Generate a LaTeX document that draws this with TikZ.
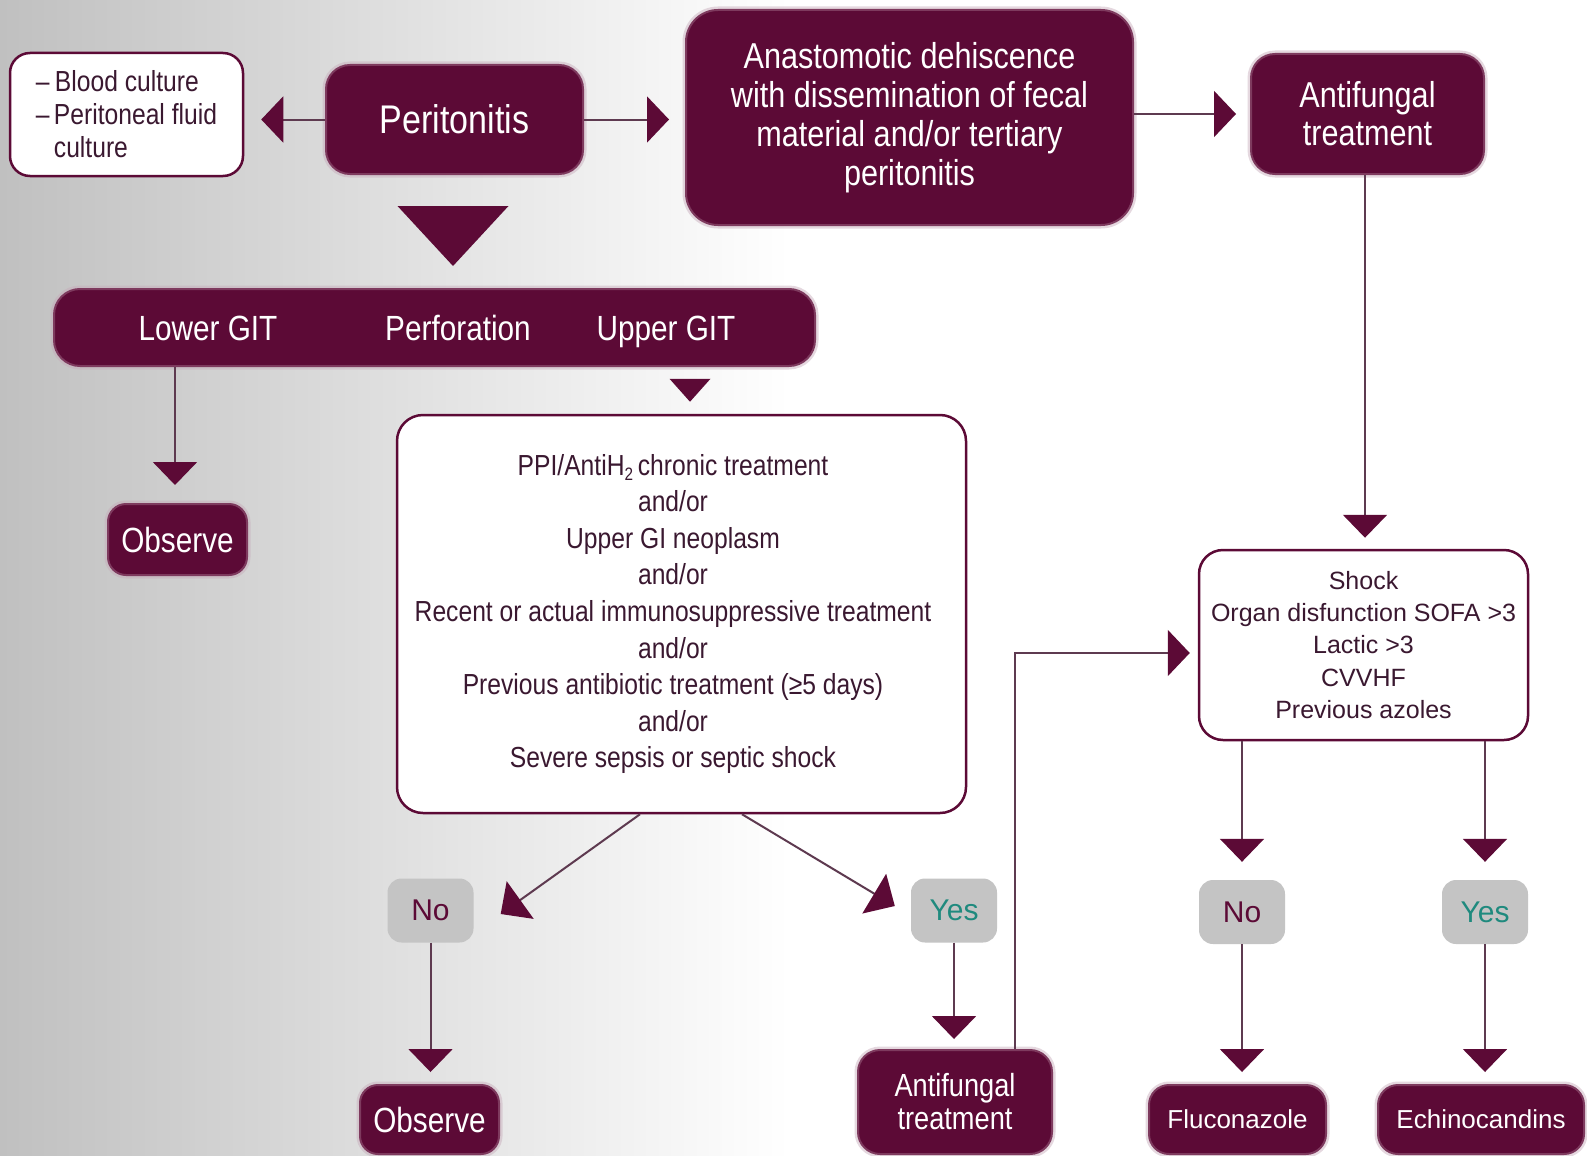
\documentclass[tikz,border=0pt]{standalone}
\usepackage{fontspec}
\setmainfont{Liberation Sans}
\newfontfamily\cond{Liberation Sans}[FakeStretch=0.85]
\usetikzlibrary{arrows.meta,calc}
\definecolor{mar}{HTML}{5C0A36}
\definecolor{marlt}{HTML}{7E3A5E}
\definecolor{txtd}{HTML}{3A1830}
\definecolor{lineC}{HTML}{5E3A50}
\definecolor{grayb}{HTML}{C4C4C4}
\definecolor{yesC}{HTML}{1F8A7E}
\definecolor{bgL}{HTML}{C0C0C0}
\begin{document}
\begin{tikzpicture}[x=1pt,y=-1pt,
  mbox/.style={fill=mar, draw=marlt, line width=2pt, rounded corners=20pt, text=white, align=center, inner sep=0pt,
    preaction={draw=mar!35, line width=7pt, opacity=0.45}},
  wbox/.style={fill=white, draw=mar, line width=2.5pt, rounded corners=20pt, text=txtd, align=center, inner sep=0pt},
  gbox/.style={fill=grayb, draw=none, rounded corners=14pt, inner sep=0pt, minimum width=86pt, minimum height=64pt,
    font=\fontsize{30}{30}\selectfont},
  bartext/.style={text=white, inner sep=0pt, anchor=base, font=\cond\fontsize{35}{38}\selectfont},
  conn/.style={draw=lineC, line width=2pt, -{Triangle[width=44pt,length=23pt,color=mar]}},
]
\useasboundingbox (0,0) rectangle (1587,1156);
\fill[white] (0,0) rectangle (1587,1156);
\shade[left color=bgL, right color=white] (0,0) rectangle (790,1156);

% top row
\node[wbox, minimum width=233pt, minimum height=123pt, align=left, font=\cond\fontsize{29}{33}\selectfont] (blood) at (126.5,114.5)
  {\makebox[19pt][l]{–}Blood culture\\ \makebox[18pt][l]{–}Peritoneal fluid\\ \hspace*{18pt}culture};
\node[mbox, minimum width=257pt, minimum height=109pt, rounded corners=24pt, font=\cond\fontsize{40}{44}\selectfont] (perit) at (454.5,119.5)
  {Peritonitis};
\node[mbox, minimum width=447pt, minimum height=215pt, rounded corners=32pt, font=\cond\fontsize{36}{38.8}\selectfont] (anast) at (909.5,117.5)
  {Anastomotic dehiscence\\with dissemination of fecal\\material and/or tertiary\\peritonitis};
\node[mbox, minimum width=233pt, minimum height=120pt, rounded corners=24pt, font=\cond\fontsize{36}{38}\selectfont] (antiT) at (1367.5,114)
  {Antifungal\\treatment};

% perforation bar
\node[mbox, minimum width=761pt, minimum height=77pt, rounded corners=26pt] (bar) at (434.5,327.5) {};
\node[bartext] (lgit) at (208,340.5) {Lower GIT};
\node[bartext] (perf) at (458,340.5) {Perforation};
\node[bartext] (ugit) at (666,340.5) {Upper GIT};

\node[mbox, minimum width=139pt, minimum height=71pt, rounded corners=18pt, font=\cond\fontsize{35}{38}\selectfont] (obs1) at (177.5,539.5)
  {Observe};

% criteria box
\node[wbox, minimum width=569pt, minimum height=398pt, rounded corners=26pt] (crit) at (681.5,614) {};
\node[text=txtd, align=center, inner sep=0pt, font=\cond\fontsize{29}{36.6}\selectfont] (critT) at (673,614)
  {PPI/AntiH\raisebox{-0.35ex}{\fontsize{18}{18}\selectfont 2}\,chronic treatment\\
   and/or\\ Upper GI neoplasm\\ and/or\\ Recent or actual immunosuppressive treatment\\
   and/or\\ Previous antibiotic treatment (≥5 days)\\ and/or\\ Severe sepsis or septic shock};

\node[gbox, text=mar] (no1) at (430.5,910.5) {No};
\node[gbox, text=yesC] (yes1) at (954,910.5) {Yes};

\node[mbox, minimum width=139pt, minimum height=69pt, rounded corners=18pt, font=\cond\fontsize{35}{38}\selectfont] (obs2) at (429.5,1119.5)
  {Observe};
\node[mbox, minimum width=194pt, minimum height=104pt, rounded corners=22pt, font=\cond\fontsize{32}{33}\selectfont] (anti2) at (955,1102)
  {Antifungal\\treatment};

% right column
\node[wbox, minimum width=329pt, minimum height=190pt, rounded corners=24pt, font=\fontsize{25}{32.4}\selectfont] (shock) at (1363.5,645)
  {Shock\\ Organ disfunction SOFA >3\\ Lactic >3\\ CVVHF\\ Previous azoles};
\node[gbox, text=mar] (no2) at (1242,912) {No};
\node[gbox, text=yesC] (yes2) at (1485,912) {Yes};
\node[mbox, minimum width=177pt, minimum height=69pt, rounded corners=20pt, font=\fontsize{26}{28}\selectfont] (fluc) at (1237.5,1119.5)
  {Fluconazole};
\node[mbox, minimum width=206pt, minimum height=69pt, rounded corners=20pt, font=\fontsize{26}{28}\selectfont] (echi) at (1481,1119.5)
  {Echinocandins};

% connectors
\draw[conn, -{Triangle[width=46pt,length=22pt,color=mar]}, shorten >=17pt] (perit.west) -- (perit.west -| blood.east);
\draw[conn, -{Triangle[width=46pt,length=22pt,color=mar]}, shorten >=16pt] (perit.east) -- (perit.east -| anast.west);
\draw[conn, -{Triangle[width=46pt,length=22pt,color=mar]}, shorten >=14pt] (anast.east |- antiT.west) -- (antiT.west);

\fill[mar] ($(perit.south)+(-57,31)$) -- ++(111,0) -- ($(perit.south)+(-1.5,91)$) -- cycle;

\coordinate (lx) at (175,0);
\draw[conn, shorten >=18pt] (bar.south -| lx) -- (obs1.north -| lx);

\fill[mar] ($(crit.north)+(-12,-35)$) -- ++(41,0) -- ($(crit.north)+(8.5,-12)$) -- cycle;

\coordinate (tl) at ($(no1.east)+(27,3.5)$);
\coordinate (tr) at ($(yes1.west)+(-16,-4.5)$);
\draw[conn, -{Triangle[width=46pt,length=24pt,color=mar]}] ($(crit.south)+(-41.5,0)$) -- (tl);
\draw[conn, -{Triangle[width=46pt,length=24pt,color=mar]}] ($(crit.south)+(60.5,0)$) -- (tr);

\draw[conn, shorten >=12pt] (no1.south) -- (no1.south |- obs2.north);
\draw[conn, shorten >=10pt] (yes1.south) -- (yes1.south |- anti2.north);

\coordinate (bx) at (1015,653);
\draw[conn, -{Triangle[width=46pt,length=22pt,color=mar]}, shorten >=8pt] (anti2.north -| bx) -- (bx) -- (bx -| shock.west);

\coordinate (sx) at (1365,0);
\draw[conn, shorten >=11pt] (antiT.south -| sx) -- (shock.north -| sx);

\draw[conn, shorten >=18pt] (shock.south -| no2) -- (no2.north);
\draw[conn, shorten >=12pt] (no2.south) -- (no2.south |- fluc.north);
\draw[conn, shorten >=18pt] (shock.south -| yes2) -- (yes2.north);
\draw[conn, shorten >=12pt] (yes2.south) -- (yes2.south |- echi.north);
\end{tikzpicture}
\end{document}
